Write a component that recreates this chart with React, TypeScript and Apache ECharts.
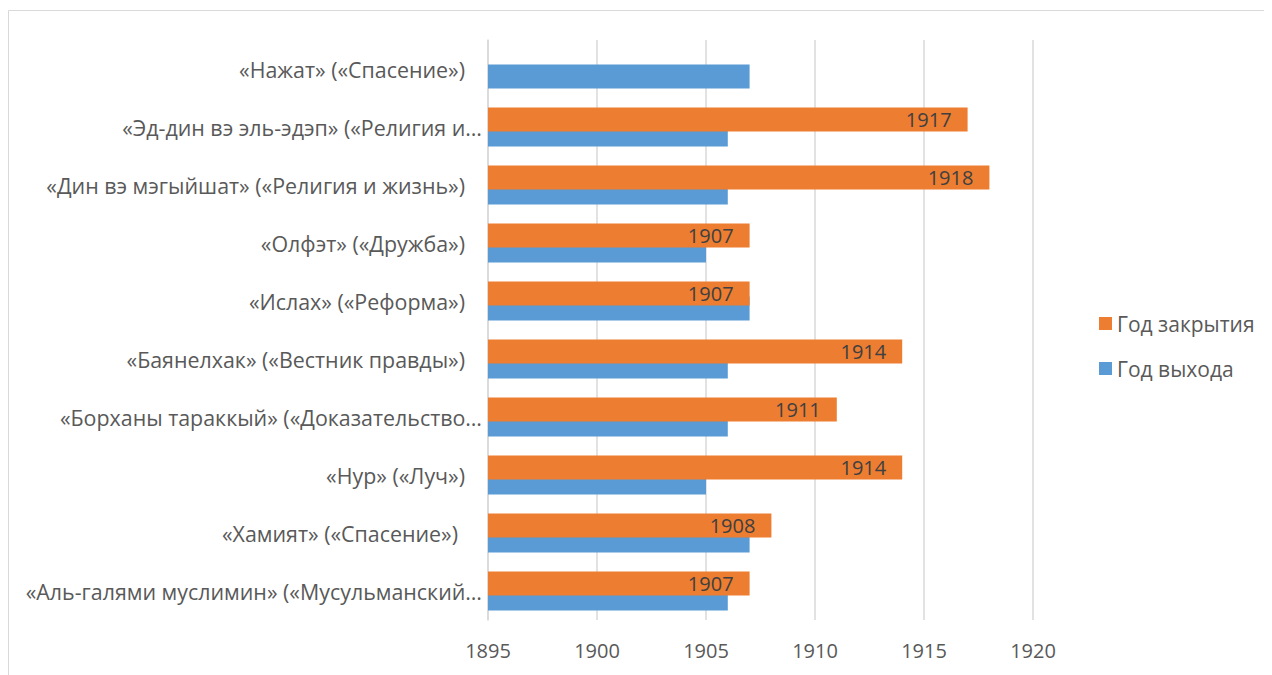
import React, { useEffect, useRef } from "react";
import * as echarts from "echarts";

const categories = [
  "«Нажат» («Спасение») ",
  "«Эд-дин вэ эль-эдэп» («Религия и…",
  "«Дин вэ мэгыйшат» («Религия и жизнь») ",
  "«Олфэт» («Дружба») ",
  "«Ислах» («Реформа») ",
  "«Баянелхак» («Вестник правды») ",
  "«Борханы тараккый» («Доказательство…",
  "«Нур» («Луч») ",
  "«Хамият» («Спасение»)  ",
  "«Аль-галями муслимин» («Мусульманский…",
];
const closeYear: (number | null)[] = [null, 1917, 1918, 1907, 1907, 1914, 1911, 1914, 1908, 1907];
const startYear = [1907, 1906, 1906, 1905, 1907, 1906, 1906, 1905, 1907, 1906];
const seriesNames = ["Год закрытия", "Год выхода"];
const xMin = 1895;
const xMax = 1920;
const xStep = 5;

const FONT = "'Open Sans', sans-serif";
const TXT = 21.4;
const LEG = 21;
const NUM = 20;

export default function App() {
  const ref = useRef<HTMLDivElement>(null);
  useEffect(() => {
    if (!ref.current) return;
    const chart = echarts.init(ref.current, undefined, { renderer: "svg" });
    chart.setOption({
      animation: false,
      textStyle: { fontFamily: FONT },
      graphic: [
        {
          type: "rect",
          shape: { x: 0.5, y: 2.5, width: 1300, height: 700 },
          style: { fill: "none", stroke: "#d9d9d9", lineWidth: 1 },
          silent: true,
        },
      ],
      grid: { left: 480, right: 239, top: 32, bottom: 55, containLabel: false },
      legend: {
        orient: "vertical",
        left: 1091,
        top: 305,
        padding: 0,
        itemWidth: 13,
        itemHeight: 13,
        itemGap: 24,
        icon: "rect",
        textStyle: { fontSize: LEG, color: "#595959", fontFamily: FONT },
        data: seriesNames,
      },
      xAxis: {
        type: "value",
        min: xMin,
        max: xMax,
        interval: xStep,
        axisLine: { show: false },
        axisTick: { show: false },
        splitLine: { show: true, lineStyle: { color: "#d9d9d9", width: 1.5 } },
        axisLabel: {
          fontSize: NUM,
          color: "#595959",
          margin: 20,
          fontFamily: FONT,
          formatter: (v: number) => String(v),
        },
      },
      yAxis: {
        type: "category",
        inverse: true,
        data: categories,
        axisLine: { show: true, lineStyle: { color: "#d9d9d9", width: 1.5 } },
        axisTick: { show: false },
        axisLabel: {
          margin: 6,
          fontSize: TXT,
          color: "#595959",
          fontFamily: FONT,
          formatter: (v: string) => {
            const trimmed = v.replace(/\s+$/, "");
            const n = v.length - trimmed.length;
            return `{s${Math.min(n, 2)}|${trimmed}}`;
          },
          rich: {
            s0: { fontSize: TXT, color: "#595959", fontFamily: FONT, padding: [0, 0, 0, 0] },
            s1: { fontSize: TXT, color: "#595959", fontFamily: FONT, padding: [0, 17, 0, 0] },
            s2: { fontSize: TXT, color: "#595959", fontFamily: FONT, padding: [0, 24, 0, 0] },
          },
        },
      },
      series: [
        {
          name: seriesNames[0],
          type: "bar",
          data: closeYear,
          barWidth: 24,
          barGap: "-38%",
          z: 3,
          itemStyle: { color: "#ED7D31" },
          label: {
            show: true,
            position: "insideRight",
            distance: 16,
            fontSize: NUM,
            color: "#404040",
            fontFamily: FONT,
          },
        },
        {
          name: seriesNames[1],
          type: "bar",
          data: startYear,
          barWidth: 24,
          barGap: "-38%",
          z: 2,
          itemStyle: { color: "#5B9BD5" },
        },
      ],
    });
    return () => chart.dispose();
  }, []);
  return <div ref={ref} style={{ width: 1264, height: 667 }} />;
}
